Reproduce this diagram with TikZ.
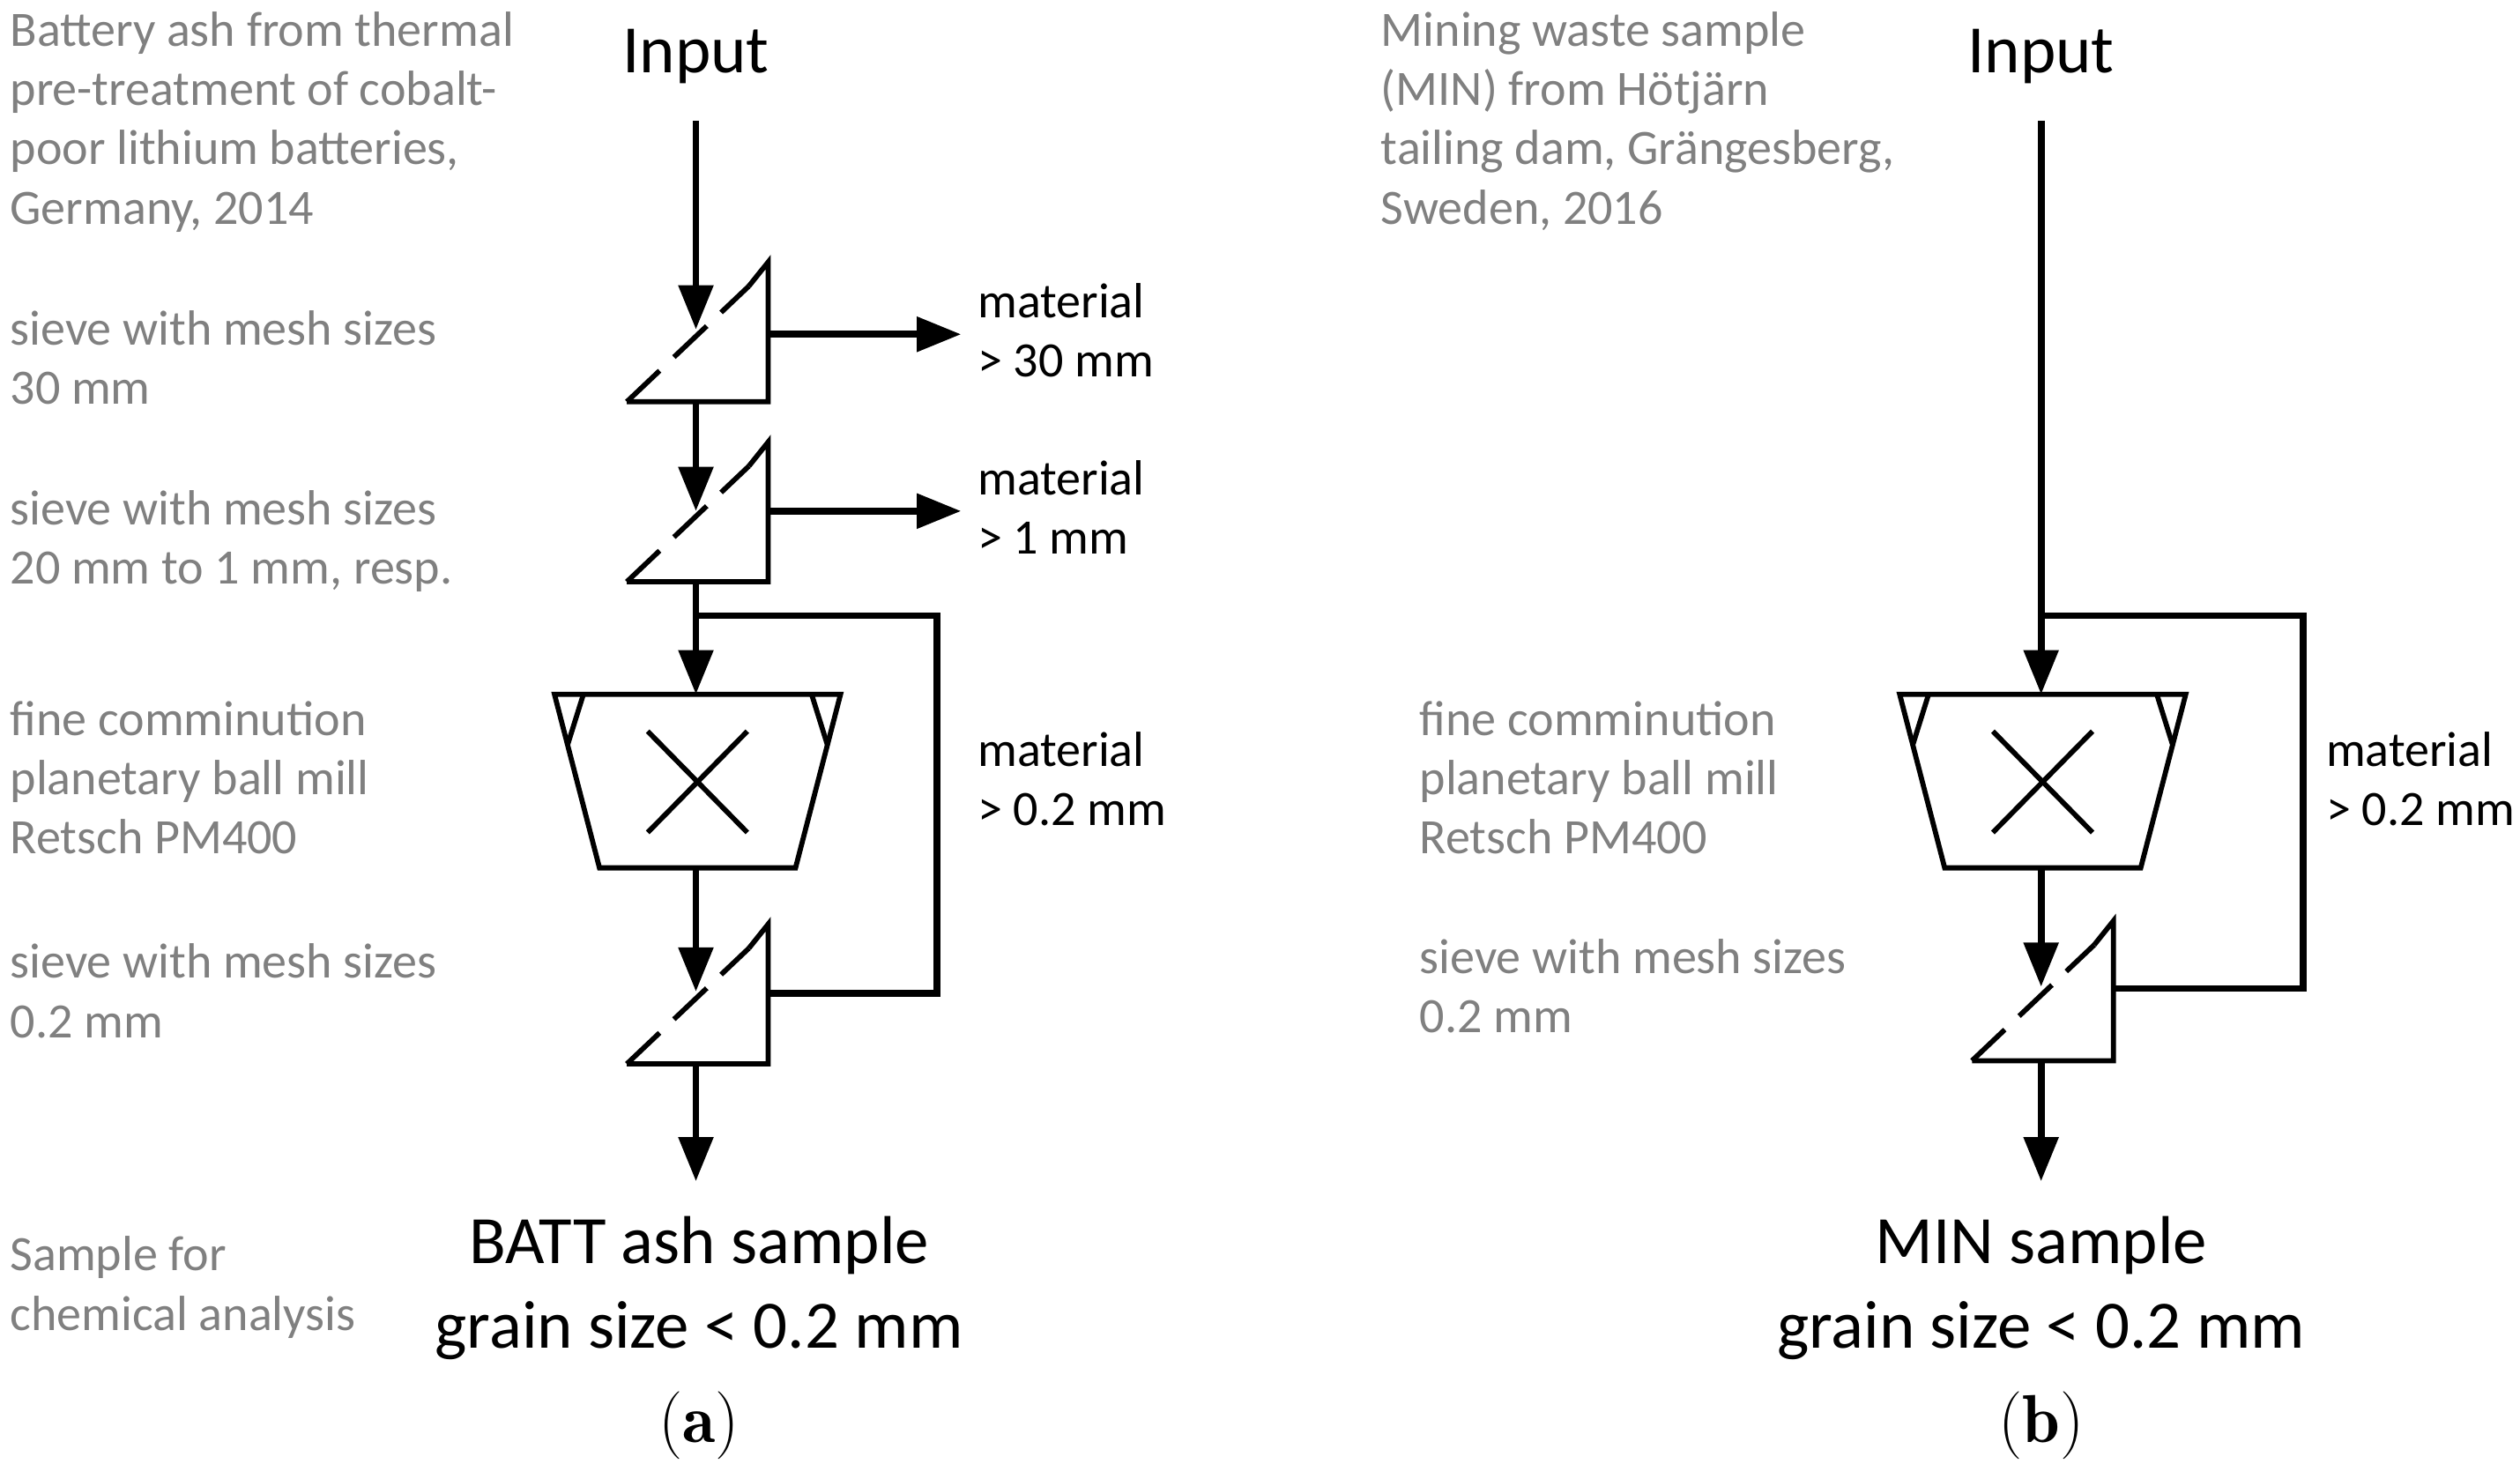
\documentclass[tikz,border=0pt]{standalone}
\usepackage{fontspec}
\setmainfont{Carlito}
\usetikzlibrary{arrows.meta,calc}
\begin{document}
\begin{tikzpicture}[x=0.02cm,y=-0.02cm,
  flow/.style={line width=2.4pt,-{Triangle[length=0.55cm,width=0.42cm]}},
  line/.style={line width=2.4pt},
  shp/.style={line width=1.8pt,line join=miter},
  gray/.style={text=black!50,font=\fontsize{17.5}{21}\selectfont,anchor=north west,align=left,inner sep=0pt},
  mat/.style={font=\fontsize{17.5}{21}\selectfont,anchor=north west,align=left,inner sep=0pt},
  big/.style={font=\fontsize{24}{30}\selectfont,inner sep=0pt},
  lab/.style={font=\fontfamily{lmr}\fontsize{24}{28}\selectfont,inner sep=0pt}]
\useasboundingbox (0,0) rectangle (1568,920);
\newcommand{\sieve}[3]{% name, x-right, y-bottom
  \coordinate (#1br) at (#2,#3);
  \coordinate (#1bl) at (#2-88,#3);
  \coordinate (#1t) at (#2,#3-87);
  \draw[shp] (#1bl) -- (#1br) -- (#1t) -- ++(-12,15);
  \draw[shp,dash pattern=on 16pt off 7pt] (#1bl) -- ($(#1t)+(-12,15)$);}
\newcommand{\mill}[3]{% name, x-center, y-top
  \coordinate (#1tl) at (#2-88,#3);
  \coordinate (#1tr) at (#2+90,#3);
  \coordinate (#1bl) at (#2-60,#3+108);
  \coordinate (#1br) at (#2+62,#3+108);
  \coordinate (#1top) at (#2,#3);
  \coordinate (#1bot) at (#2,#3+108);
  \draw[shp] (#1tl) -- (#1tr) -- (#1br) -- (#1bl) -- cycle;
  \draw[shp] (#2-70,#3) -- (#2-80,#3+32);
  \draw[shp] (#2+72,#3) -- (#2+82,#3+32);
  \draw[shp] (#2-30,#3+23) -- (#2+32,#3+86);
  \draw[shp] (#2+32,#3+23) -- (#2-30,#3+86);}
% ---------- (a)
\node[big] (inA) at (433,35) {Input};
\sieve{sa}{478}{250}
\sieve{sb}{478}{362}
\mill{ma}{433}{432}
\sieve{sc}{478}{662}
\coordinate (a1) at (433,205);
\coordinate (a2) at (433,318);
\coordinate (a3) at (433,617);
\coordinate (a4) at (433,735);
\coordinate (ja) at (433,383);
\draw[flow] (433,75) -- (a1);
\draw[flow] (433,250) -- (a2);
\draw[flow] (433,362) -- (matop);
\draw[flow] (mabot) -- (a3);
\draw[flow] (433,662) -- (a4);
\draw[flow] (478,208) -- (598,208);
\draw[flow] (478,318) -- (598,318);
\draw[line] (ja) -- (583,383) -- (583,618) -- (478,618);
\node[mat] (m1) at (608,176) {material\\> 30 mm};
\node[mat] (m2) at (608,286) {material\\> 1 mm};
\node[mat] (m3) at (608,455) {material\\> 0.2 mm};
\node[big] (oa1) at (435,775) {BATT ash sample};
\node[big] (oa2) at (435,828) {grain size < 0.2 mm};
\node[lab] (la) at (435,887) {(\textbf{a})};
\node[gray] (g1) at (6,7) {Battery ash from thermal\\pre-treatment of cobalt-\\poor lithium batteries,\\Germany, 2014};
\node[gray] (g2) at (6,193) {sieve with mesh sizes\\30 mm};
\node[gray] (g3) at (6,305) {sieve with mesh sizes\\20 mm to 1 mm, resp.};
\node[gray] (g4) at (6,436) {fine comminution\\planetary ball mill\\Retsch PM400};
\node[gray] (g5) at (6,587) {sieve with mesh sizes\\0.2 mm};
\node[gray] (g6) at (6,769) {Sample for\\chemical analysis};
% ---------- (b)
\node[big] (inB) at (1270,35) {Input};
\mill{mb}{1270}{432}
\sieve{sd}{1315}{660}
\coordinate (jb) at (1270,383);
\draw[flow] (1270,75) -- (mbtop);
\draw[flow] (mbbot) -- (1270,614);
\draw[flow] (1270,660) -- (1270,735);
\draw[line] (jb) -- (1433,383) -- (1433,615) -- (1315,615);
\node[mat] (m4) at (1447,455) {material\\> 0.2 mm};
\node[big] (ob1) at (1270,775) {MIN sample};
\node[big] (ob2) at (1270,828) {grain size < 0.2 mm};
\node[lab] (lb) at (1270,887) {(\textbf{b})};
\node[gray] (h1) at (859,7) {Mining waste sample\\(MIN) from Hötjärn\\tailing dam, Grängesberg,\\Sweden, 2016};
\node[gray] (h2) at (883,436) {fine comminution\\planetary ball mill\\Retsch PM400};
\node[gray] (h3) at (883,584) {sieve with mesh sizes\\0.2 mm};
\end{tikzpicture}
\end{document}
